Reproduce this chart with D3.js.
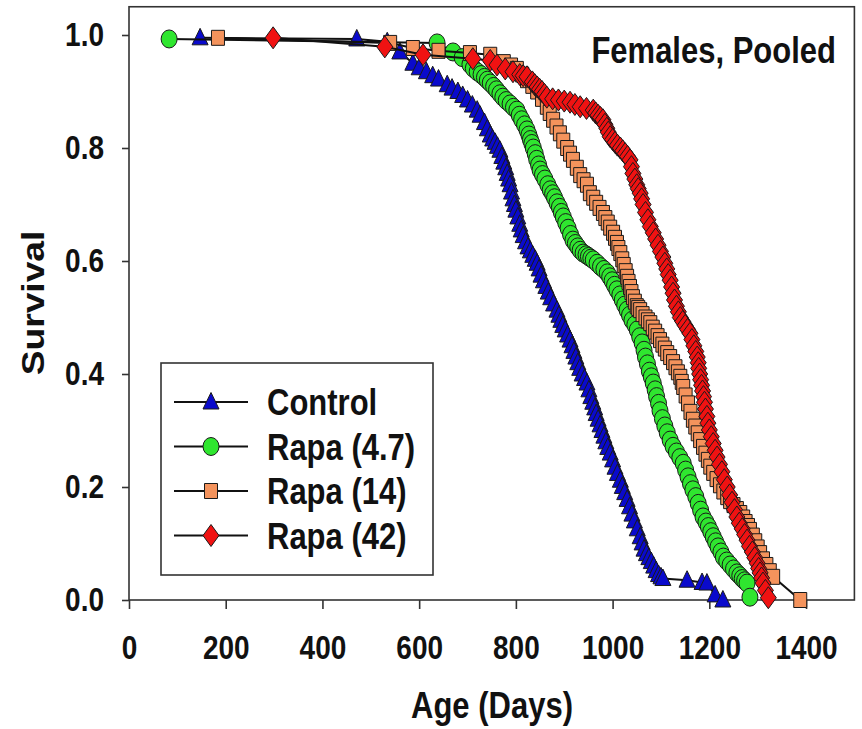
<!DOCTYPE html>
<html>
<head>
<meta charset="utf-8">
<script src="https://cdnjs.cloudflare.com/ajax/libs/d3/7.8.5/d3.min.js"></script>
<style>
  body { margin: 0; background: #fff; }
  text { font-family: "Liberation Sans", Arial, sans-serif; font-weight: bold; fill: #111; }
</style>
</head>
<body>
<svg id="chart" width="862" height="729"></svg>
<script>
// [age in days, survival] (sorted by age below)
const controlData = [[147,0.995],[471,0.993],[534,0.988],[560,0.970],[587,0.950],[615,0.935],[640,0.922],[658,0.912],[680,0.900],[700,0.885],
  [720,0.867],[735,0.845],[747,0.823],[757,0.810],[767,0.796],[775,0.775],[782,0.755],[788,0.735],[794,0.710],[800,0.690],
  [808,0.665],[815,0.645],[825,0.625],[835,0.610],[844,0.596],[852,0.575],[862,0.555],[872,0.535],[885,0.513],[893,0.495],
  [902,0.478],[912,0.460],[920,0.440],[928,0.420],[937,0.400],[947,0.384],[955,0.360],[963,0.340],[970,0.320],[978,0.300],
  [986,0.280],[995,0.260],[1005,0.235],[1016,0.212],[1025,0.190],[1035,0.165],[1045,0.140],[1057,0.112],[1065,0.090],[1075,0.075],
  [1085,0.060],[1095,0.045],[1104,0.038],[1154,0.035],[1185,0.031],[1195,0.030],[1212,0.009],[1228,0.000],
  [600,0.942],[628,0.928],[668,0.906],[690,0.893],[710,0.876],[726,0.858],[741,0.834],[752,0.816],[762,0.803],[771,0.785],
  [779,0.765],[785,0.745],[791,0.722],[797,0.700],[804,0.678],[811,0.655],[820,0.634],[830,0.618],[840,0.603],[848,0.586],
  [857,0.565],[867,0.545],[878,0.524],[889,0.504],[897,0.486],[907,0.469],[916,0.450],[924,0.430],[932,0.410],[942,0.392],
  [951,0.372],[959,0.350],[966,0.330],[974,0.310],[982,0.290],[990,0.270],[1000,0.248],[1010,0.224],[1020,0.201],[1030,0.178],
  [1040,0.152],[1051,0.126],[1061,0.101],[1070,0.082],[1080,0.068],[1090,0.052],[1100,0.041]];

const rapa47Data = [[83,0.993],[637,0.986],[670,0.970],[689,0.960],[705,0.948],[720,0.935],[735,0.925],[747,0.915],[760,0.903],[773,0.890],
  [788,0.878],[802,0.867],[812,0.850],[823,0.832],[830,0.815],[836,0.800],[843,0.780],[850,0.761],[860,0.745],[871,0.726],
  [880,0.712],[890,0.695],[898,0.678],[908,0.658],[918,0.637],[928,0.625],[939,0.614],[950,0.608],[960,0.602],[975,0.590],
  [989,0.579],[999,0.565],[1009,0.549],[1020,0.531],[1030,0.513],[1040,0.495],[1051,0.478],[1061,0.455],[1068,0.430],[1076,0.405],
  [1084,0.384],[1091,0.360],[1098,0.335],[1108,0.308],[1119,0.283],[1132,0.262],[1146,0.242],[1156,0.218],[1166,0.195],[1177,0.171],
  [1187,0.147],[1198,0.130],[1208,0.112],[1218,0.094],[1229,0.076],[1243,0.062],[1257,0.048],[1268,0.038],[1278,0.030],[1284,0.005],
  [712,0.941],[728,0.930],[741,0.920],[754,0.909],[767,0.896],[780,0.884],[795,0.872],[807,0.858],[818,0.841],[827,0.823],
  [833,0.808],[840,0.790],[847,0.770],[855,0.753],[866,0.735],[876,0.719],[885,0.703],[894,0.686],[903,0.668],[913,0.647],
  [923,0.631],[933,0.619],[945,0.611],[955,0.605],[968,0.596],[982,0.585],[994,0.572],[1004,0.557],[1015,0.540],[1025,0.522],
  [1035,0.504],[1046,0.487],[1056,0.466],[1065,0.442],[1072,0.418],[1080,0.395],[1088,0.372],[1095,0.348],[1103,0.321],[1113,0.296],
  [1125,0.272],[1139,0.252],[1151,0.230],[1161,0.206],[1172,0.183],[1182,0.159],[1193,0.138],[1203,0.121],[1213,0.103],[1224,0.085],
  [1236,0.069],[1250,0.055],[1263,0.043],[1273,0.034]];

const rapa14Data = [[184,0.995],[540,0.986],[587,0.977],[640,0.972],[705,0.968],[747,0.965],[775,0.952],[802,0.940],[823,0.920],[844,0.900],
  [864,0.873],[877,0.850],[891,0.826],[906,0.800],[918,0.779],[933,0.752],[947,0.735],[953,0.720],[966,0.703],[980,0.685],
  [990,0.668],[1001,0.650],[1009,0.632],[1016,0.614],[1023,0.593],[1030,0.572],[1036,0.554],[1042,0.536],[1050,0.520],[1057,0.513],
  [1068,0.500],[1078,0.490],[1088,0.475],[1098,0.460],[1108,0.445],[1119,0.430],[1130,0.412],[1140,0.395],[1146,0.377],[1156,0.348],
  [1166,0.319],[1176,0.295],[1187,0.271],[1197,0.248],[1208,0.225],[1222,0.203],[1237,0.182],[1250,0.168],[1264,0.154],[1275,0.138],
  [1284,0.124],[1295,0.104],[1305,0.083],[1318,0.062],[1332,0.041],[1388,0.000],
  [790,0.946],[813,0.930],[834,0.910],[854,0.887],[870,0.862],[884,0.838],[898,0.813],[912,0.790],[926,0.765],[940,0.743],
  [960,0.712],[973,0.694],[985,0.676],[995,0.659],[1005,0.641],[1012,0.623],[1020,0.603],[1027,0.582],[1033,0.563],[1039,0.545],
  [1046,0.528],[1053,0.517],[1062,0.506],[1073,0.495],[1083,0.482],[1093,0.467],[1103,0.452],[1113,0.437],[1125,0.421],[1135,0.403],
  [1143,0.386],[1151,0.362],[1161,0.333],[1171,0.307],[1181,0.283],[1192,0.259],[1202,0.236],[1215,0.214],[1229,0.192],[1243,0.175],
  [1257,0.161],[1270,0.146],[1280,0.131],[1290,0.114],[1300,0.093],[1311,0.072],[1325,0.051]];

const rapa42Data = [[298,0.995],[529,0.979],[608,0.965],[711,0.958],[747,0.955],[761,0.947],[778,0.940],[794,0.935],[808,0.930],[823,0.926],
  [834,0.917],[844,0.908],[854,0.900],[864,0.890],[888,0.885],[912,0.881],[933,0.873],[960,0.867],[970,0.858],[980,0.850],
  [988,0.835],[995,0.820],[1005,0.810],[1016,0.800],[1026,0.790],[1036,0.779],[1042,0.755],[1050,0.735],[1057,0.720],[1063,0.700],
  [1073,0.673],[1084,0.650],[1094,0.628],[1104,0.607],[1112,0.586],[1119,0.566],[1125,0.543],[1132,0.520],[1140,0.500],[1150,0.486],
  [1160,0.472],[1168,0.450],[1175,0.430],[1178,0.410],[1182,0.390],[1186,0.370],[1190,0.350],[1195,0.325],[1200,0.301],[1208,0.277],
  [1216,0.253],[1226,0.227],[1237,0.200],[1247,0.173],[1257,0.147],[1268,0.126],[1278,0.106],[1289,0.085],[1299,0.065],[1305,0.048],
  [1311,0.030],[1322,0.004],
  [815,0.928],[839,0.912],[849,0.904],[859,0.895],[876,0.887],[900,0.883],[922,0.877],[946,0.870],[965,0.862],[975,0.854],
  [984,0.842],[991,0.828],[1000,0.815],[1010,0.805],[1021,0.795],[1031,0.785],[1039,0.767],[1046,0.745],[1053,0.728],[1060,0.710],
  [1068,0.686],[1078,0.661],[1089,0.639],[1099,0.617],[1108,0.596],[1115,0.576],[1122,0.554],[1128,0.531],[1136,0.510],[1145,0.493],
  [1155,0.479],[1164,0.461],[1172,0.440],[1177,0.420],[1180,0.400],[1184,0.380],[1188,0.360],[1192,0.338],[1197,0.313],[1204,0.289],
  [1212,0.265],[1221,0.240],[1231,0.213],[1242,0.186],[1252,0.160],[1262,0.136],[1273,0.116],[1283,0.095],[1294,0.075],[1302,0.056],
  [1308,0.039],[1316,0.017]];

const seriesNames = ["Control", "Rapa (4.7)", "Rapa (14)", "Rapa (42)"];
const xTicks = [0, 200, 400, 600, 800, 1000, 1200, 1400];
const yTicks = [0, 0.2, 0.4, 0.6, 0.8, 1.0];

[controlData, rapa47Data, rapa14Data, rapa42Data].forEach(d => d.sort((a, b) => a[0] - b[0]));

const series = [
    {name: seriesNames[0], data: controlData, fill: "#0a0acc", shape: "M0,-9.5L8,7L-8,7Z"},
    {name: seriesNames[1], data: rapa47Data, fill: "#2fe62f", shape: "M-8,0A8,9 0 1,0 8,0A8,9 0 1,0 -8,0Z"},
    {name: seriesNames[2], data: rapa14Data, fill: "#f4935c", shape: "M-6.5,-7.5h13v15h-13Z"},
    {name: seriesNames[3], data: rapa42Data, fill: "#f01212", shape: "M0,-11L8,0L0,11L-8,0Z"}
];

const svg = d3.select("#chart");

const x = d3.scaleLinear().domain([0, 1500]).range([129, 854.4]);
const y = d3.scaleLinear().domain([0, 1.05]).range([600, 6.75]);

svg.append("rect")
    .attr("x", x(0)).attr("y", y(1.05))
    .attr("width", x(1500) - x(0)).attr("height", y(0) - y(1.05))
    .attr("fill", "none").attr("stroke", "#333").attr("stroke-width", 1.6);

const xAxis = svg.append("g")
    .attr("transform", "translate(0," + y(0) + ")")
    .call(d3.axisBottom(x).tickValues(xTicks).tickSize(9).tickPadding(20).tickFormat(d3.format("d")));

const yAxis = svg.append("g")
    .attr("transform", "translate(" + x(0) + ",0)")
    .call(d3.axisLeft(y).tickValues(yTicks).tickSize(7).tickPadding(18).tickFormat(d3.format(".1f")));

[xAxis, yAxis].forEach(function (ax) {
    ax.attr("font-size", 28).attr("font-family", null);
    ax.select(".domain").remove();
    ax.selectAll("line").attr("stroke", "#333").attr("stroke-width", 1.6);
    ax.selectAll("text").attr("transform", "scale(1,1.2)");
});

const line = d3.line().x(d => x(d[0])).y(d => y(d[1]));

series.forEach(function (s) {
    const g = svg.append("g");
    g.append("path")
        .datum(s.data)
        .attr("d", line)
        .attr("fill", "none")
        .attr("stroke", "#111")
        .attr("stroke-width", 2);
    g.selectAll("path.mark")
        .data(s.data)
        .enter()
        .append("path")
        .attr("class", "mark")
        .attr("d", s.shape)
        .attr("transform", d => "translate(" + x(d[0]) + "," + y(d[1]) + ")")
        .attr("fill", s.fill)
        .attr("stroke", "#1a1a1a")
        .attr("stroke-width", 1);
});

// legend
const legend = svg.append("g");
legend.append("rect")
    .attr("x", 161).attr("y", 363).attr("width", 272).attr("height", 212)
    .attr("fill", "#fff").attr("stroke", "#333").attr("stroke-width", 1.6);

series.forEach(function (s, i) {
    const ry = 402 + i * 44.5;
    legend.append("line")
        .attr("x1", 174).attr("x2", 248).attr("y1", ry).attr("y2", ry)
        .attr("stroke", "#111").attr("stroke-width", 2);
    legend.append("path")
        .attr("d", s.shape)
        .attr("transform", "translate(211," + ry + ")")
        .attr("fill", s.fill).attr("stroke", "#1a1a1a").attr("stroke-width", 1);
    legend.append("text")
        .attr("transform", "translate(267," + ry + ") scale(1,1.2)")
        .attr("y", 11)
        .style("font-size", "31px")
        .text(s.name);
});

svg.append("text")
    .attr("transform", "translate(836,63) scale(1,1.2)")
    .attr("text-anchor", "end")
    .style("font-size", "31px")
    .text("Females, Pooled");

svg.append("text")
    .attr("transform", "translate(492,718) scale(1,1.2)")
    .attr("text-anchor", "middle")
    .style("font-size", "31px")
    .text("Age (Days)");

svg.append("text")
    .attr("transform", "translate(44,303) rotate(-90) scale(1.2,1)")
    .attr("text-anchor", "middle")
    .style("font-size", "31px")
    .text("Survival");
</script>
</body>
</html>
